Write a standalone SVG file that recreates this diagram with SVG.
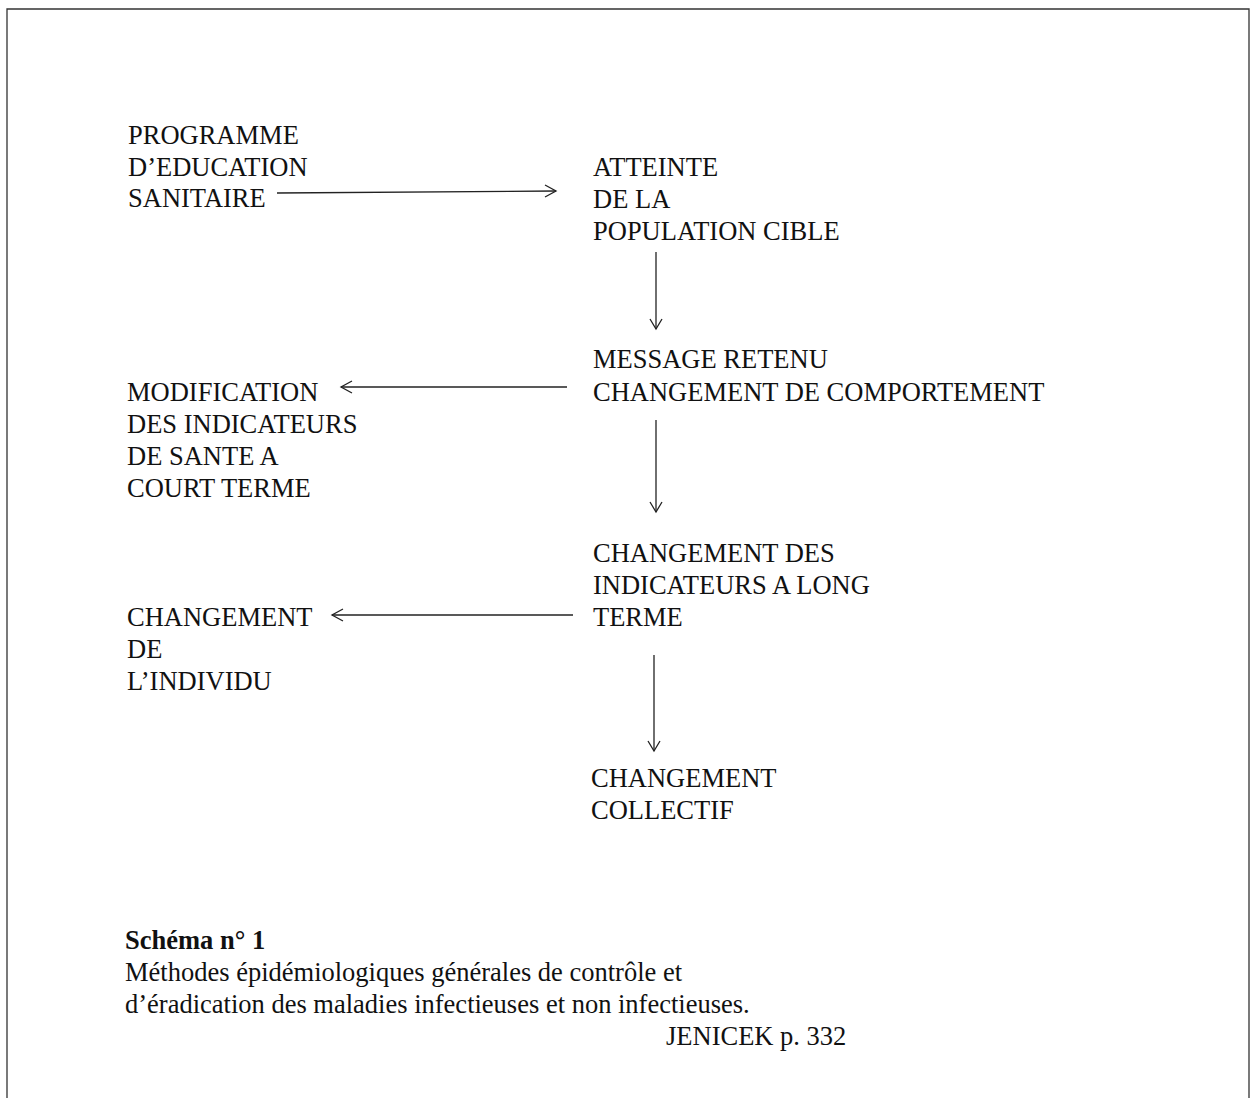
<svg xmlns="http://www.w3.org/2000/svg" width="1252" height="1098" viewBox="0 0 1252 1098">
<style>
  text { font-family: "Liberation Serif", "Times New Roman", serif; font-size: 26.5px; fill: #111; }
  .bold { font-weight: bold; }
  .frame { stroke: #333; stroke-width: 1.3; fill: none; }
  .conn line { stroke: #222; stroke-width: 1.3; }
  .head { stroke: #222; stroke-width: 1.3; fill: none; }
</style>
<rect width="1252" height="1098" fill="#fff"/>
<g id="frame">
  <path class="frame" d="M7,1098 V9 H1249 V1098"/>
</g>
<g id="n1"><text x="128" y="144">PROGRAMME</text><text x="128" y="176">D’EDUCATION</text><text x="128" y="207">SANITAIRE</text></g>
<g id="n2"><text x="593" y="176">ATTEINTE</text><text x="593" y="208">DE LA</text><text x="593" y="240">POPULATION CIBLE</text></g>
<g id="n3"><text x="593" y="368">MESSAGE RETENU</text><text x="593" y="401">CHANGEMENT DE COMPORTEMENT</text></g>
<g id="n4"><text x="127" y="401">MODIFICATION</text><text x="127" y="433">DES INDICATEURS</text><text x="127" y="465">DE SANTE A</text><text x="127" y="497">COURT TERME</text></g>
<g id="n5"><text x="593" y="562">CHANGEMENT DES</text><text x="593" y="594">INDICATEURS A LONG</text><text x="593" y="626">TERME</text></g>
<g id="n6"><text x="127" y="626">CHANGEMENT</text><text x="127" y="658">DE</text><text x="127" y="690">L’INDIVIDU</text></g>
<g id="n7"><text x="591" y="787">CHANGEMENT</text><text x="591" y="819">COLLECTIF</text></g>
<g id="caption">
  <text class="bold" x="125" y="949">Schéma n° 1</text>
  <text x="125" y="981">Méthodes épidémiologiques générales de contrôle et</text>
  <text x="125" y="1013">d’éradication des maladies infectieuses et non infectieuses.</text>
  <text x="666" y="1045">JENICEK p. 332</text>
</g>
<g id="connectors" class="conn">
  <line x1="277" y1="193" x2="556" y2="191"/>
  <path class="head" d="M545,185 L556,191 L545,197"/>
  <line x1="656" y1="252" x2="656" y2="329"/>
  <path class="head" d="M650,319 L656,329 L662,319"/>
  <line x1="567" y1="387" x2="341" y2="387"/>
  <path class="head" d="M352,381 L341,387 L352,393"/>
  <line x1="656" y1="420" x2="656" y2="512"/>
  <path class="head" d="M650,502 L656,512 L662,502"/>
  <line x1="573" y1="615" x2="332" y2="615"/>
  <path class="head" d="M343,609 L332,615 L343,621"/>
  <line x1="654" y1="655" x2="654" y2="751"/>
  <path class="head" d="M648,741 L654,751 L660,741"/>
</g>
</svg>
